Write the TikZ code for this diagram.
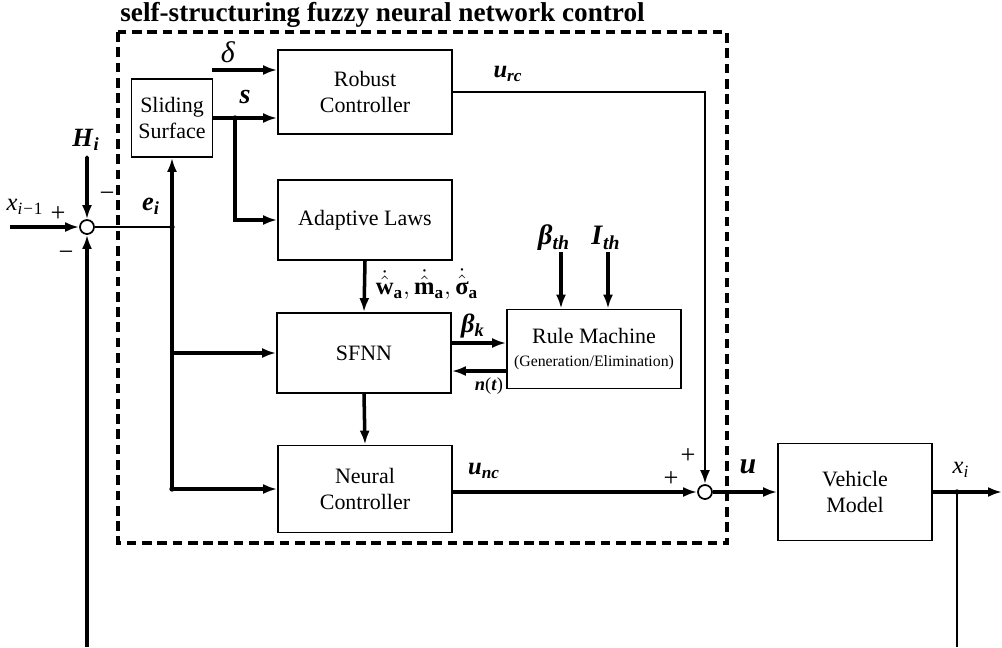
\documentclass[tikz,border=0pt]{standalone}
\usepackage{amsmath}
\usepackage{fontspec}
\setmainfont{Liberation Serif}
\usepackage{tikz}
\usetikzlibrary{calc,arrows.meta,positioning}

\newcommand{\blkfont}{\fontsize{12.5}{15}\selectfont}
\newcommand{\smallfont}{\fontsize{9}{11}\selectfont}
\newcommand{\titlefont}{\fontsize{15.5}{18}\selectfont\bfseries}
\newcommand{\lblfont}{\fontsize{14}{16}\selectfont}
\newcommand{\sgnfont}{\fontsize{15}{17}\selectfont}
% bold italic symbol with bold italic index
\newcommand{\bsym}[2]{\textbf{\textit{#1}}\textsubscript{\textbf{\textit{#2}}}}
\newcommand{\isym}[2]{\textit{#1}\textsubscript{\textit{#2}}}
% rate of an adapted parameter
\newcommand{\rate}[1]{\dot{\hat{#1}}_{\mathbf{a}}}

\tikzset{
  blk/.style={draw, line width=1pt, minimum width=3.48cm, minimum height=1.6cm,
  align=center, font=\blkfont, inner sep=2pt},
  sumnode/.style={circle, draw, line width=1pt, minimum size=0.28cm, inner sep=0pt},
  sig/.style={line width=2pt, -{Latex[length=2.8mm,width=2mm]}},
  wire/.style={line width=1pt},
  frame/.style={line width=1.9pt, dash pattern=on 5.5pt off 3.2pt},
  lbl/.style={font=\lblfont, inner sep=0pt},
  sgn/.style={font=\sgnfont, inner sep=0pt},
  dot/.style={circle, fill, inner sep=0pt, minimum size=3pt}
}

\begin{document}
\begin{tikzpicture}[x={(0.02cm,0)}, y={(0,-0.02cm)}]
\useasboundingbox (0,0) rectangle (1002,647);

% controller frame
\draw[frame] (118,32) rectangle (727,543);
\node[anchor=base west, font=\titlefont, inner sep=0pt] (title) at (120,21)
  {self-structuring fuzzy neural network control};

% blocks
\node[blk, minimum width=1.62cm, minimum height=1.56cm] (surf) at (172,118) {Sliding\\Surface};
\node[blk, minimum height=1.68cm] (robust) at (365,92) {Robust\\Controller};
\node[blk] (adapt) at (365,220) {Adaptive Laws};
\node[blk] (sfnn) at (364,353) {SFNN};
\node[blk, minimum height=1.58cm] (rule) at (594,349)
  {Rule Machine\\[-2pt]{\smallfont (Generation/Elimination)}};
\node[blk, minimum height=1.74cm] (neural) at (365,489) {Neural\\Controller};
\node[blk, minimum width=3.08cm, minimum height=1.94cm] (plant) at (855,492) {Vehicle\\Model};

% summing points
\node[sumnode] (sum1) at (87,227) {};
\node[sumnode] (sum2) at (705,492) {};

% free ends
\coordinate (xin) at (10,227);
\coordinate (hin) at (87,157);
\coordinate (din) at (212,70);
\coordinate (sj) at (235,118);
\coordinate (bth) at (561,252);
\coordinate (ith) at (608,252);
\coordinate (xout) at (1002,492);
\coordinate (xj) at (957,492);
\coordinate (fbL) at (87,647);
\coordinate (fbR) at (957,647);
\coordinate (ej) at (sum1 -| surf.south);

% error path
\draw[sig] (xin) -- (sum1.west);
\draw[sig] (hin) -- (sum1.north);
\draw[sig] (fbL) -- (sum1.south);
\draw[wire] (sum1.east) -- (ej);
\draw[sig] (ej |- neural.west) -- (surf.south);
\draw[sig] (ej |- sfnn.west) -- (sfnn.west);
\draw[sig] (ej |- neural.west) -- (neural.west);

% sliding variable
\draw[sig] (din) -- (din -| robust.west);
\draw[sig] (surf.east) -- (surf.east -| robust.west);
\draw[sig] (sj) |- (adapt.west);

% learning loop
\draw[sig] (adapt.south) -- (sfnn.north);
\draw[sig] (sfnn.east |- 0,343) -- (rule.west |- 0,343);
\draw[sig] (rule.west |- 0,371) -- (sfnn.east |- 0,371);
\draw[sig] (bth) -- (bth |- rule.north);
\draw[sig] (ith) -- (ith |- rule.north);
\draw[sig] (sfnn.south) -- (neural.north);

% control signals
\draw[line width=1.6pt, -{Latex[length=2.8mm,width=2mm]}] (robust.east |- 0,92) -| (sum2.north);
\draw[sig] (neural.east |- sum2.west) -- (sum2.west);
\draw[sig] (sum2.east) -- (plant.west);
\draw[sig] (plant.east) -- (xout);
\draw[wire] (xj) -- (fbR);

% junction dots
\node[dot] at (ej) {};
\node[dot] at (ej |- neural.west) {};
\node[dot] at (sj) {};
\node[dot] at (xj) {};
\node[dot, minimum size=2pt] at (hin) {};

% labels
\node[lbl, font=\fontsize{17}{19}\selectfont] (lbdelta) at (228,52) {\textit{δ}};
\node[lbl, font=\fontsize{16}{18}\selectfont] (lbs) at (245,97) {\textbf{\textit{s}}};
\node[lbl] (lburc) at (508,74) {\bsym{u}{rc}};
\node[lbl, font=\fontsize{15}{17}\selectfont] (lbH) at (86,140) {\bsym{H}{i}};
\node[lbl, font=\fontsize{14}{16}\selectfont] (lbx) at (25,207) {\textit{x}\textsubscript{\textit{i}\kern0.5pt−\kern0.5pt1}};
\node[lbl, font=\fontsize{15}{17}\selectfont] (lbe) at (151,206) {\bsym{e}{i}};
\node[lbl, font=\fontsize{14}{16}\selectfont] (lbw) at (427,284)
  {$\rate{\mathbf{w}},\rate{\mathbf{m}},\rate{\text{\bfseries σ}}$};
\node[lbl, font=\fontsize{16}{18}\selectfont] (lbbth) at (554,238) {\bsym{β}{th}};
\node[lbl, font=\fontsize{16}{18}\selectfont] (lbith) at (606,238) {\bsym{I}{th}};
\node[lbl, font=\fontsize{15}{17}\selectfont] (lbbk) at (473,326) {\bsym{β}{k}};
\node[lbl, font=\fontsize{10.5}{12}\selectfont] (lbn) at (489,386) {\textbf{\textit{n}}(\textbf{\textit{t}})};
\node[lbl] (lbunc) at (484,471) {\bsym{u}{nc}};
\node[lbl, font=\fontsize{17}{19}\selectfont] (lbu) at (748,467) {\textbf{\textit{u}}};
\node[lbl] (lbxi) at (961,470) {\isym{x}{i}};

% signs
\node[sgn] (pl1) at (58,214) {+};
\node[sgn] (mi1) at (107,197) {−};
\node[sgn] (mi2) at (66,256) {−};
\node[sgn] (pl2) at (688,456) {+};
\node[sgn] (pl3) at (671,479) {+};
\end{tikzpicture}
\end{document}
